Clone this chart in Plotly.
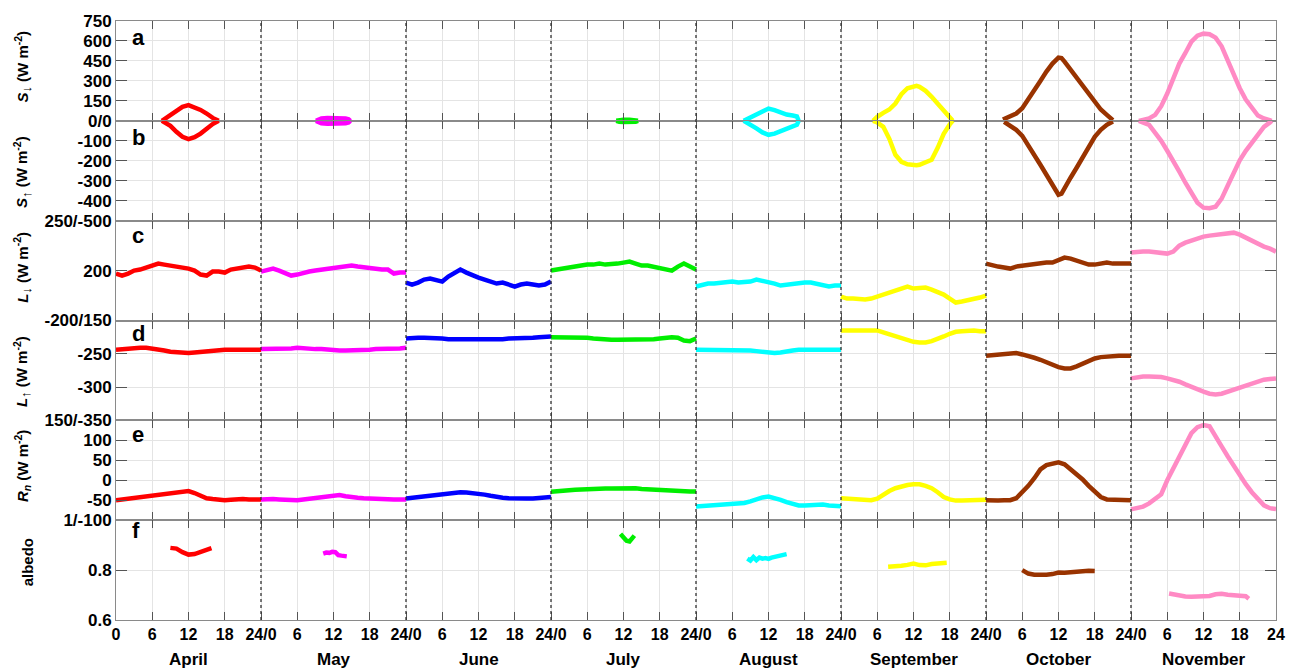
import plotly.graph_objects as go
from plotly.subplots import make_subplots

MONTHS = ["April", "May", "June", "July", "August", "September", "October", "November"]
COLORS = ["#ff0000", "#ff00ff", "#0000ff", "#00ee00", "#00ffff", "#ffff00", "#993300", "#ff8ac4"]
HOURS = list(range(25))

# ---- panel a / b : shortwave down (S_dn) and up (S_up) ----
APR_S_H = [7.6, 8, 9, 10, 11, 12, 13, 14, 15, 16, 17]
APR_SDN = [0, 12, 45, 80, 105, 118, 104, 82, 55, 22, 0]
APR_SUP = [0, -6, -25, -55, -80, -92, -82, -64, -40, -16, 0]
MAY_S_H = [9.1, 9.5, 10, 11, 12, 13, 14, 14.5, 14.8]
MAY_SDN = [0, 12, 18, 22, 22, 22, 18, 12, 0]
MAY_SUP = [0, -8, -12, -15, -15, -15, -12, -8, 0]
JUL_S_H = [10.8, 11.3, 12, 13, 14, 14.4]
JUL_SDN = [0, 6, 8, 8, 6, 0]
JUL_SUP = [0, -5, -6, -6, -5, 0]
AUG_S_H = [7.9, 9, 10, 11, 12, 13, 14, 15, 16, 16.7, 17]
AUG_SDN = [0, 25, 50, 75, 92, 80, 60, 47, 40, 33, 0]
AUG_SUP = [0, -18, -38, -58, -70, -64, -50, -38, -28, -20, 0]
SEP_S_H = [5.3, 6, 7, 8, 9, 10, 11, 12, 12.5, 13, 14, 15, 16, 17, 18, 18.5]
SEP_SDN = [0, 30, 60, 85, 130, 200, 245, 262, 263, 255, 225, 180, 130, 75, 25, 0]
SEP_SUP = [0, -8, -30, -90, -170, -205, -218, -222, -222, -220, -210, -195, -135, -65, -18, 0]
OCT_SDN_H = [2.8, 4, 5, 6, 7, 8, 9, 10, 11, 12, 12.5, 13, 14, 15, 16, 17, 18, 19, 20, 21]
OCT_SDN = [10, 30, 55, 95, 160, 230, 300, 370, 430, 475, 472, 445, 385, 320, 255, 195, 140, 85, 45, 5]
OCT_SUP_H = [3, 4, 5, 6, 7, 8, 9, 10, 11, 12, 12.5, 13, 14, 15, 16, 17, 18, 19, 20, 21]
OCT_SUP = [-5, -25, -45, -75, -120, -170, -220, -270, -320, -370, -365, -335, -285, -235, -180, -130, -80, -45, -20, -3]
NOV_S_H = [1.3, 2, 3, 4, 5, 6, 7, 8, 9, 10, 11, 12, 13, 14, 15, 16, 17, 18, 19, 20, 21, 22, 23, 23.3]
NOV_SDN = [0, 8, 18, 45, 110, 205, 315, 430, 510, 595, 640, 655, 650, 625, 560, 455, 345, 245, 160, 95, 40, 18, 6, 0]
NOV_SUP = [0, -8, -20, -60, -100, -150, -198, -255, -310, -360, -410, -435, -438, -430, -390, -325, -262, -198, -150, -110, -70, -30, -8, 0]

# ---- panel c : longwave down ----
APR_LDN = [197, 195, 197, 200, 201, 203, 206, 207, 206, 205, 205, 204, 202, 200, 196, 195, 199, 199, 198, 201, 202, 202, 204, 203, 200]
MAY_LDN = [199, 201, 202, 200, 197, 195, 196, 198, 199, 200, 201, 202, 203, 204, 204, 205, 204, 203, 203, 202, 201, 201, 197, 198, 198]
JUN_LDN = [188, 186, 188, 191, 192, 190, 189, 194, 198, 201, 198, 195, 193, 191, 189, 187, 188, 186, 184, 186, 187, 186, 185, 186, 189]
JUL_LDN = [200, 201, 202, 204, 205, 205, 206, 206, 207, 206, 206, 207, 208, 209, 207, 205, 205, 204, 203, 201, 200, 204, 207, 204, 201]
AUG_LDN = [184, 186, 187, 187, 188, 188, 189, 188, 188, 189, 191, 190, 189, 187, 185, 186, 187, 187, 188, 188, 187, 185, 184, 185, 185]
SEP_LDN = [174, 172, 172, 171, 171, 172, 174, 176, 178, 180, 182, 184, 182, 183, 183, 181, 179, 176, 172, 168, 169, 170, 171, 173, 175]
OCT_LDN = [207, 205, 204, 203, 202, 204, 205, 205, 206, 207, 208, 208, 210, 213, 212, 210, 208, 206, 206, 207, 208, 207, 207, 207, 207]
NOV_LDN = [218, 219, 219, 219, 218, 217, 217, 219, 225, 228, 230, 233, 234, 235, 236, 236, 237, 238, 236, 233, 229, 226, 224, 222, 219]

# ---- panel d : longwave up ----
APR_LUP = [-244, -243, -242, -241, -241, -241, -242, -244, -245, -247, -248, -249, -249, -248, -247, -246, -245, -245, -244, -244, -244, -244, -244, -244, -244]
MAY_LUP = [-243, -243, -242, -242, -242, -242, -241, -242, -242, -243, -243, -244, -244, -245, -245, -245, -245, -244, -244, -243, -243, -242, -242, -242, -241]
JUN_LUP = [-227, -226, -226, -226, -226, -227, -227, -228, -228, -229, -229, -229, -229, -228, -228, -228, -228, -227, -227, -226, -226, -226, -225, -225, -224]
JUL_LUP = [-225, -225, -225, -225, -225, -226, -226, -227, -228, -228, -229, -229, -229, -229, -229, -228, -228, -228, -227, -226, -225, -226, -230, -231, -227]
AUG_LUP = [-244, -244, -244, -244, -244, -244, -244, -244, -245, -245, -246, -247, -248, -249, -248, -246, -245, -244, -244, -244, -244, -244, -244, -244, -244]
SEP_LUP = [-215, -215, -215, -215, -215, -214, -215, -218, -221, -224, -227, -230, -232, -233, -233, -231, -228, -224, -220, -217, -216, -215, -215, -216, -216]
OCT_LUP = [-253, -252, -251, -250, -249, -249, -251, -253, -256, -259, -263, -267, -270, -272, -272, -269, -265, -261, -257, -255, -254, -253, -253, -253, -253]
NOV_LUP = [-287, -285, -284, -284, -284, -285, -287, -289, -292, -296, -300, -303, -307, -310, -311, -310, -307, -304, -300, -297, -294, -291, -289, -288, -287]

# ---- panel e : net radiation ----
APR_RN = [-50, -48, -46, -44, -42, -40, -39, -38, -36, -34, -31, -29, -27, -32, -40, -45, -47, -49, -50, -49, -47, -47, -48, -48, -48]
MAY_RN = [-48, -47, -47, -48, -49, -50, -50, -48, -46, -44, -42, -39, -37, -37, -40, -43, -44, -45, -46, -47, -47, -47, -48, -48, -48]
JUN_RN = [-46, -44, -42, -40, -38, -37, -36, -34, -31, -30, -31, -32, -34, -36, -39, -42, -44, -45, -46, -46, -46, -46, -45, -44, -42]
JUL_RN = [-29, -27, -26, -25, -24, -23, -22, -22, -21, -21, -21, -21, -20, -19, -20, -22, -23, -24, -25, -25, -26, -26, -27, -28, -28]
AUG_RN = [-66, -65, -63, -62, -61, -60, -59, -58, -57, -53, -47, -43, -41, -44, -49, -55, -60, -63, -63, -62, -61, -61, -63, -64, -65]
SEP_RN = [-45, -46, -47, -48, -49, -50, -46, -36, -27, -20, -15, -12, -10, -10, -14, -20, -30, -42, -48, -51, -51, -50, -50, -49, -49]
OCT_RN = [-50, -51, -51, -50, -50, -45, -30, -14, 5, 27, 38, 42, 45, 40, 28, 15, 2, -14, -30, -42, -48, -49, -48, -50, -50]
NOV_RN = [-73, -70, -66, -58, -48, -35, 0, 30, 60, 90, 118, 133, 138, 135, 112, 85, 60, 35, 10, -10, -30, -48, -63, -70, -72]

# ---- panel f : albedo ----
APR_ALB_H = [9, 10, 11, 12, 13, 14, 15, 15.8]
APR_ALB = [0.889, 0.886, 0.872, 0.862, 0.864, 0.872, 0.880, 0.888]
MAY_ALB_H = [10.3, 10.8, 11.3, 11.8, 12.3, 12.8, 13.3, 13.8, 14.2]
MAY_ALB = [0.866, 0.870, 0.869, 0.873, 0.872, 0.860, 0.858, 0.855, 0.855]
JUL_ALB_H = [11.5, 12, 12.5, 13, 13.5, 13.8]
JUL_ALB = [0.945, 0.930, 0.918, 0.915, 0.928, 0.938]
AUG_ALB_H = [8.5, 9, 9.5, 10, 10.5, 11, 11.5, 12, 12.5, 13, 13.5, 14, 14.5, 15]
AUG_ALB = [0.846, 0.838, 0.852, 0.840, 0.850, 0.846, 0.848, 0.845, 0.850, 0.852, 0.855, 0.856, 0.860, 0.864]
SEP_ALB_H = [7.8, 9, 10, 11, 12, 13, 14, 15, 16, 17, 17.5]
SEP_ALB = [0.813, 0.814, 0.817, 0.821, 0.826, 0.820, 0.819, 0.824, 0.826, 0.828, 0.829]
OCT_ALB_H = [6, 7, 8, 9, 10, 11, 12, 13, 14, 15, 16, 17, 18]
OCT_ALB = [0.800, 0.786, 0.781, 0.780, 0.781, 0.784, 0.790, 0.789, 0.792, 0.795, 0.797, 0.797, 0.796]
NOV_ALB_H = [6.3, 7, 8, 9, 10, 11, 12, 13, 14, 15, 16, 17, 18, 19, 19.5]
NOV_ALB = [0.706, 0.702, 0.697, 0.694, 0.693, 0.693, 0.695, 0.696, 0.703, 0.705, 0.701, 0.699, 0.700, 0.695, 0.685]

# ---- axis tick labels ----
Y_TICKS = {
    1: ([750, 600, 450, 300, 150], ["750", "600", "450", "300", "150"]),
    2: ([0, -100, -200, -300, -400], ["0/0", "-100", "-200", "-300", "-400"]),
    3: ([250, 200], ["250/-500", "200"]),
    4: ([-200, -250, -300], ["-200/150", "-250", "-300"]),
    5: ([150, 100, 50, 0, -50], ["150/-350", "100", "50", "0", "-50"]),
    6: ([1.0, 0.8, 0.6], ["1/-100", "0.8", "0.6"]),
}
Y_RANGES = {1: [0, 750], 2: [-500, 0], 3: [150, 250], 4: [-350, -200], 5: [-100, 150], 6: [0.6, 1.0]}
PANEL_LETTERS = ["a", "b", "c", "d", "e", "f"]
ARROW_DN = "<sub><span style='font-size:13px'>↓</span></sub>"
ARROW_UP = "<sub><span style='font-size:13px'>↑</span></sub>"
Y_TITLES = ["<i>S</i>" + ARROW_DN + " (W m<sup>-2</sup>)", "<i>S</i>" + ARROW_UP + " (W m<sup>-2</sup>)",
            "<i>L</i>" + ARROW_DN + " (W m<sup>-2</sup>)", "<i>L</i>" + ARROW_UP + " (W m<sup>-2</sup>)",
            "<i>R<sub>n</sub></i> (W m<sup>-2</sup>)", "albedo"]

FONT = "Liberation Sans, Arial, sans-serif"

# series grouped by (month index, hours, values)
SDN_SERIES = [(0, APR_S_H, APR_SDN), (1, MAY_S_H, MAY_SDN), (3, JUL_S_H, JUL_SDN), (4, AUG_S_H, AUG_SDN),
              (5, SEP_S_H, SEP_SDN), (6, OCT_SDN_H, OCT_SDN), (7, NOV_S_H, NOV_SDN)]
SUP_SERIES = [(0, APR_S_H, APR_SUP), (1, MAY_S_H, MAY_SUP), (3, JUL_S_H, JUL_SUP), (4, AUG_S_H, AUG_SUP),
              (5, SEP_S_H, SEP_SUP), (6, OCT_SUP_H, OCT_SUP), (7, NOV_S_H, NOV_SUP)]
LDN_SERIES = [APR_LDN, MAY_LDN, JUN_LDN, JUL_LDN, AUG_LDN, SEP_LDN, OCT_LDN, NOV_LDN]
LUP_SERIES = [APR_LUP, MAY_LUP, JUN_LUP, JUL_LUP, AUG_LUP, SEP_LUP, OCT_LUP, NOV_LUP]
RN_SERIES = [APR_RN, MAY_RN, JUN_RN, JUL_RN, AUG_RN, SEP_RN, OCT_RN, NOV_RN]
ALB_SERIES = [(0, APR_ALB_H, APR_ALB), (1, MAY_ALB_H, MAY_ALB), (3, JUL_ALB_H, JUL_ALB), (4, AUG_ALB_H, AUG_ALB),
              (5, SEP_ALB_H, SEP_ALB), (6, OCT_ALB_H, OCT_ALB), (7, NOV_ALB_H, NOV_ALB)]

fig = make_subplots(rows=6, cols=1, shared_xaxes=True, vertical_spacing=0)

LW = 4.5


def add(row, m, hrs, vals):
    fig.add_trace(go.Scatter(x=[m * 24 + h for h in hrs], y=vals, mode="lines",
                             line=dict(color=COLORS[m], width=LW), hoverinfo="skip"), row=row, col=1)


for m, h, v in SDN_SERIES:
    add(1, m, h, v)
for m, h, v in SUP_SERIES:
    add(2, m, h, v)
for m, v in enumerate(LDN_SERIES):
    add(3, m, HOURS, v)
for m, v in enumerate(LUP_SERIES):
    add(4, m, HOURS, v)
for m, v in enumerate(RN_SERIES):
    add(5, m, HOURS, v)
for m, h, v in ALB_SERIES:
    add(6, m, h, v)

x_tickvals = list(range(0, 193, 6))
x_ticktext = []
for t in x_tickvals:
    if t == 0:
        x_ticktext.append("0")
    elif t == 192:
        x_ticktext.append("24")
    elif t % 24 == 0:
        x_ticktext.append("24/0")
    else:
        x_ticktext.append(str(t % 24))

tickfont = dict(family=FONT, size=17, color="black", weight="bold")

fig.update_xaxes(range=[0, 192], tickvals=x_tickvals, ticktext=x_ticktext, ticks="inside", ticklen=8,
                 tickcolor="#555555", tickwidth=1.3, showline=True, linecolor="#8a8a8a", linewidth=1,
                 mirror="ticks", showgrid=True, gridcolor="#e4e4e4", gridwidth=1, zeroline=False,
                 tickfont=dict(family=FONT, size=16, color="black", weight="bold"))
fig.update_xaxes(showticklabels=True, row=6, col=1)

for r in range(1, 7):
    tv, tt = Y_TICKS[r]
    fig.update_yaxes(range=Y_RANGES[r], tickvals=tv, ticktext=tt, ticks="inside", ticklen=11,
                     tickcolor="#555555", tickwidth=1.3, showline=True, linecolor="#8a8a8a", linewidth=1,
                     mirror="ticks", showgrid=True, gridcolor="#e4e4e4", zeroline=False,
                     tickfont=tickfont, row=r, col=1)

# month boundaries
for i in range(1, 8):
    fig.add_shape(type="line", xref="x", yref="paper", x0=24 * i, x1=24 * i, y0=0, y1=1,
                  line=dict(color="#333333", width=1.3, dash="dot"), layer="above")

annotations = []
letter_y = [0.972, 0.805, 0.642, 0.478, 0.31, 0.149]
for L, yy in zip(PANEL_LETTERS, letter_y):
    annotations.append(dict(text=L, xref="paper", yref="paper", x=0.012, y=yy, xanchor="left",
                            yanchor="middle", showarrow=False,
                            font=dict(family=FONT, size=22, color="black", weight="bold")))
title_y = [0.924, 0.748, 0.588, 0.414, 0.257, 0.096]
title_x = [-0.081, -0.081, -0.081, -0.081, -0.081, -0.076]
for T, yy, xx in zip(Y_TITLES, title_y, title_x):
    annotations.append(dict(text=T, xref="paper", yref="paper", x=xx, y=yy, xanchor="center",
                            yanchor="middle", showarrow=False, textangle=-90,
                            font=dict(family=FONT, size=15, color="black", weight="bold")))
for i, name in enumerate(MONTHS):
    annotations.append(dict(text=name, xref="x", yref="paper", x=24 * i + 12, y=-0.066, xanchor="center",
                            yanchor="middle", showarrow=False,
                            font=dict(family=FONT, size=17, color="black", weight="bold")))

fig.update_layout(width=1297, height=671, margin=dict(l=116, r=17, t=16, b=51),
                  plot_bgcolor="white", paper_bgcolor="white", showlegend=False,
                  font=dict(family=FONT, color="black"), annotations=annotations)

fig.write_html("out.html", config={"displayModeBar": False},
               post_script="document.body.style.margin='0';")
